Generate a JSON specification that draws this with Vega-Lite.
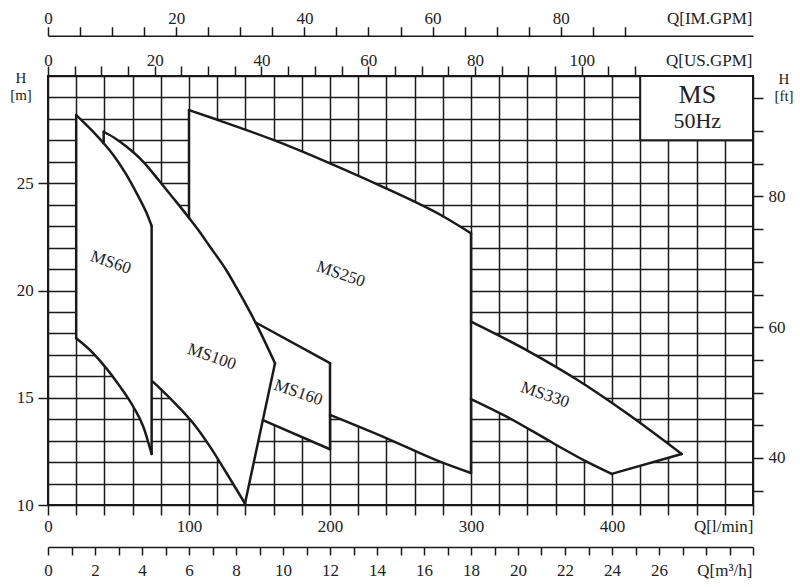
{
  "$schema": "https://vega.github.io/schema/vega-lite/v6.json",
  "width": 705,
  "height": 429,
  "autosize": {"type": "none"},
  "padding": {"left": 48, "top": 76, "right": 47, "bottom": 82},
  "background": "white",
  "config": {
    "view": {"stroke": "#1a1a1a", "strokeWidth": 2},
    "axis": {
      "labelFont": "Liberation Serif", "labelFontSize": 17, "labelColor": "#222",
      "titleFont": "Liberation Serif", "titleFontSize": 17, "titleColor": "#222", "titleFontWeight": "normal",
      "tickColor": "#1a1a1a", "tickWidth": 1.5,
      "domainColor": "#1a1a1a", "domainWidth": 1.5,
      "gridColor": "#1a1a1a", "gridWidth": 1.5, "gridOpacity": 1,
      "labelFlush": false, "labelOverlap": false, "labelBound": false,
      "titleAngle": 0
    }
  },
  "datasets": {
    "ms60": [
      {"Q": 20, "H": 28.18, "o": 1}, {"Q": 32.1, "H": 27.4, "o": 2}, {"Q": 39.2, "H": 26.89, "o": 3},
      {"Q": 46.3, "H": 26.32, "o": 4}, {"Q": 55.8, "H": 25.38, "o": 5}, {"Q": 62.9, "H": 24.53, "o": 6},
      {"Q": 70, "H": 23.6, "o": 7}, {"Q": 73.5, "H": 23.01, "o": 8}, {"Q": 73.5, "H": 12.38, "o": 9},
      {"Q": 67.6, "H": 13.65, "o": 10}, {"Q": 60.5, "H": 14.58, "o": 11}, {"Q": 51.1, "H": 15.52, "o": 12},
      {"Q": 40.4, "H": 16.45, "o": 13}, {"Q": 32.1, "H": 17.07, "o": 14}, {"Q": 20, "H": 17.77, "o": 15},
      {"Q": 20, "H": 28.18, "o": 16}
    ],
    "ms100": [
      {"Q": 39.5, "H": 27.4, "o": 1}, {"Q": 47.5, "H": 27.1, "o": 2}, {"Q": 55.8, "H": 26.7, "o": 3},
      {"Q": 67.6, "H": 26.0, "o": 4}, {"Q": 79.4, "H": 25.07, "o": 5}, {"Q": 88.9, "H": 24.3, "o": 6},
      {"Q": 98.4, "H": 23.52, "o": 7}, {"Q": 106.6, "H": 22.82, "o": 8}, {"Q": 114.9, "H": 22.04, "o": 9},
      {"Q": 126.7, "H": 20.92, "o": 10}, {"Q": 133.8, "H": 20.12, "o": 11}, {"Q": 148, "H": 18.4, "o": 12},
      {"Q": 161, "H": 16.61, "o": 13}, {"Q": 139.7, "H": 10.07, "o": 14}, {"Q": 126.7, "H": 11.48, "o": 15},
      {"Q": 114.9, "H": 12.72, "o": 16}, {"Q": 103, "H": 13.81, "o": 17}, {"Q": 91.3, "H": 14.66, "o": 18},
      {"Q": 79.4, "H": 15.44, "o": 19}, {"Q": 74.3, "H": 15.75, "o": 20}, {"Q": 60, "H": 16.6, "o": 21},
      {"Q": 39.5, "H": 17.8, "o": 22}, {"Q": 39.5, "H": 27.4, "o": 23}
    ],
    "ms160": [
      {"Q": 147, "H": 18.52, "o": 1}, {"Q": 200, "H": 16.61, "o": 2}, {"Q": 200, "H": 12.6, "o": 3},
      {"Q": 152.4, "H": 13.96, "o": 4}, {"Q": 150, "H": 16.5, "o": 5}, {"Q": 147, "H": 18.52, "o": 6}
    ],
    "ms250": [
      {"Q": 100, "H": 28.41, "o": 1}, {"Q": 119.6, "H": 27.97, "o": 2}, {"Q": 159.8, "H": 27.02, "o": 3},
      {"Q": 200, "H": 25.93, "o": 4}, {"Q": 237.8, "H": 24.82, "o": 5}, {"Q": 280.4, "H": 23.45, "o": 6},
      {"Q": 300, "H": 22.67, "o": 7}, {"Q": 300, "H": 11.49, "o": 8}, {"Q": 278, "H": 12.02, "o": 9},
      {"Q": 240.2, "H": 13.11, "o": 10}, {"Q": 200, "H": 14.2, "o": 11}, {"Q": 170, "H": 15.0, "o": 12},
      {"Q": 120, "H": 17.5, "o": 13}, {"Q": 100, "H": 20, "o": 14}, {"Q": 100, "H": 28.41, "o": 15}
    ],
    "ms330": [
      {"Q": 300, "H": 18.55, "o": 1}, {"Q": 340, "H": 17.2, "o": 2}, {"Q": 375, "H": 15.85, "o": 3},
      {"Q": 410, "H": 14.3, "o": 4}, {"Q": 449.4, "H": 12.38, "o": 5}, {"Q": 399.8, "H": 11.45, "o": 6},
      {"Q": 382, "H": 12.02, "o": 7}, {"Q": 358.4, "H": 12.88, "o": 8}, {"Q": 325.3, "H": 14.12, "o": 9},
      {"Q": 300, "H": 14.94, "o": 10}, {"Q": 300, "H": 18.55, "o": 11}
    ],
    "curves": [
      {"seg": "ms60 top", "Q": 20, "H": 28.18}, {"seg": "ms60 top", "Q": 32.1, "H": 27.4}, {"seg": "ms60 top", "Q": 39.2, "H": 26.89},
      {"seg": "ms60 top", "Q": 46.3, "H": 26.32}, {"seg": "ms60 top", "Q": 55.8, "H": 25.38}, {"seg": "ms60 top", "Q": 62.9, "H": 24.53},
      {"seg": "ms60 top", "Q": 70, "H": 23.6}, {"seg": "ms60 top", "Q": 73.5, "H": 23.01},
      {"seg": "ms60 bottom", "Q": 20, "H": 17.77}, {"seg": "ms60 bottom", "Q": 32.1, "H": 17.07}, {"seg": "ms60 bottom", "Q": 40.4, "H": 16.45},
      {"seg": "ms60 bottom", "Q": 51.1, "H": 15.52}, {"seg": "ms60 bottom", "Q": 60.5, "H": 14.58}, {"seg": "ms60 bottom", "Q": 67.6, "H": 13.65},
      {"seg": "ms60 bottom", "Q": 73.5, "H": 12.38},
      {"seg": "ms100 top", "Q": 39.5, "H": 27.4}, {"seg": "ms100 top", "Q": 47.5, "H": 27.1}, {"seg": "ms100 top", "Q": 55.8, "H": 26.7},
      {"seg": "ms100 top", "Q": 67.6, "H": 26.0}, {"seg": "ms100 top", "Q": 79.4, "H": 25.07}, {"seg": "ms100 top", "Q": 88.9, "H": 24.3},
      {"seg": "ms100 top", "Q": 98.4, "H": 23.52}, {"seg": "ms100 top", "Q": 106.6, "H": 22.82}, {"seg": "ms100 top", "Q": 114.9, "H": 22.04},
      {"seg": "ms100 top", "Q": 126.7, "H": 20.92}, {"seg": "ms100 top", "Q": 133.8, "H": 20.12}, {"seg": "ms100 top", "Q": 148, "H": 18.4},
      {"seg": "ms100 top", "Q": 161, "H": 16.61},
      {"seg": "ms100 bottom", "Q": 74.3, "H": 15.75}, {"seg": "ms100 bottom", "Q": 79.4, "H": 15.44}, {"seg": "ms100 bottom", "Q": 91.3, "H": 14.66},
      {"seg": "ms100 bottom", "Q": 103, "H": 13.81}, {"seg": "ms100 bottom", "Q": 114.9, "H": 12.72}, {"seg": "ms100 bottom", "Q": 126.7, "H": 11.48},
      {"seg": "ms100 bottom", "Q": 139.7, "H": 10.07},
      {"seg": "ms100 end", "Q": 139.7, "H": 10.07}, {"seg": "ms100 end", "Q": 161, "H": 16.61},
      {"seg": "ms160 top", "Q": 147, "H": 18.52}, {"seg": "ms160 top", "Q": 200, "H": 16.61},
      {"seg": "ms160 bottom", "Q": 152.4, "H": 13.96}, {"seg": "ms160 bottom", "Q": 200, "H": 12.6},
      {"seg": "ms250 top", "Q": 100, "H": 28.41}, {"seg": "ms250 top", "Q": 119.6, "H": 27.97}, {"seg": "ms250 top", "Q": 159.8, "H": 27.02},
      {"seg": "ms250 top", "Q": 200, "H": 25.93}, {"seg": "ms250 top", "Q": 237.8, "H": 24.82}, {"seg": "ms250 top", "Q": 280.4, "H": 23.45},
      {"seg": "ms250 top", "Q": 300, "H": 22.67},
      {"seg": "ms250 bottom", "Q": 200, "H": 14.2}, {"seg": "ms250 bottom", "Q": 240.2, "H": 13.11}, {"seg": "ms250 bottom", "Q": 278, "H": 12.02},
      {"seg": "ms250 bottom", "Q": 300, "H": 11.49},
      {"seg": "ms330 top", "Q": 300, "H": 18.55}, {"seg": "ms330 top", "Q": 340, "H": 17.2}, {"seg": "ms330 top", "Q": 375, "H": 15.85},
      {"seg": "ms330 top", "Q": 410, "H": 14.3}, {"seg": "ms330 top", "Q": 449.4, "H": 12.38},
      {"seg": "ms330 bottom", "Q": 300, "H": 14.94}, {"seg": "ms330 bottom", "Q": 325.3, "H": 14.12}, {"seg": "ms330 bottom", "Q": 358.4, "H": 12.88},
      {"seg": "ms330 bottom", "Q": 382, "H": 12.02}, {"seg": "ms330 bottom", "Q": 399.8, "H": 11.45},
      {"seg": "ms330 end", "Q": 399.8, "H": 11.45}, {"seg": "ms330 end", "Q": 449.4, "H": 12.38}
    ],
    "edges": [
      {"seg": "ms60 left", "Q": 20, "H": 17.77}, {"seg": "ms60 left", "Q": 20, "H": 28.18},
      {"seg": "ms60 right", "Q": 73.5, "H": 12.38}, {"seg": "ms60 right", "Q": 73.5, "H": 23.01},
      {"seg": "ms100 left", "Q": 39.5, "H": 26.87}, {"seg": "ms100 left", "Q": 39.5, "H": 27.4},
      {"seg": "ms250 left", "Q": 100, "H": 23.38}, {"seg": "ms250 left", "Q": 100, "H": 28.41},
      {"seg": "ms250 right", "Q": 300, "H": 11.49}, {"seg": "ms250 right", "Q": 300, "H": 22.67},
      {"seg": "ms160 right", "Q": 200, "H": 12.6}, {"seg": "ms160 right", "Q": 200, "H": 16.61}
    ],
    "labels": [
      {"Q": 44.5, "H": 21.3, "t": "MS60"},
      {"Q": 116.1, "H": 16.91, "t": "MS100"},
      {"Q": 177.5, "H": 15.24, "t": "MS160"},
      {"Q": 207.6, "H": 20.76, "t": "MS250"},
      {"Q": 352.5, "H": 15.13, "t": "MS330"}
    ]
  },
  "layer": [
    {
      "resolve": {"axis": {"x": "independent", "y": "independent"}},
      "layer": [
        {
          "data": {"name": "ms330"},
          "mark": {"type": "line", "fill": "white", "stroke": "transparent", "strokeWidth": 0},
          "encoding": {
            "x": {"field": "Q", "type": "quantitative", "scale": {"domain": [0, 500], "nice": false, "zero": false},
              "axis": {"orient": "bottom", "values": [0,20,40,60,80,100,120,140,160,180,200,220,240,260,280,300,320,340,360,380,400,420,440,460,480,500],
                "grid": true, "domain": false, "tickSize": 10, "labelBaseline": "alphabetic", "labelPadding": 16.7,
                "labelExpr": "datum.value % 100 === 0 && datum.value < 500 ? datum.label : ''",
                "title": "Q[l/min]", "titleX": 705, "titleY": 26.7, "titleAlign": "right", "titleAnchor": "end", "titleBaseline": "alphabetic"}},
            "y": {"field": "H", "type": "quantitative", "scale": {"domain": [10, 30], "nice": false, "zero": false},
              "axis": {"orient": "left", "values": [10, 15, 20, 25], "grid": false, "domain": false, "tickSize": 10, "labelPadding": 4.7,
                "title": ["H", "[m]"], "titleFontSize": 15, "titleX": -27.5, "titleY": 1, "titleAlign": "center", "titleBaseline": "middle", "titleLineHeight": 17}},
            "order": {"field": "o", "type": "quantitative"}
          }
        },
        {
          "data": {"name": "ms250"},
          "mark": {"type": "line", "fill": "white", "stroke": "transparent", "strokeWidth": 0},
          "encoding": {
            "x": {"field": "Q", "type": "quantitative", "scale": {"domain": [0, 500], "nice": false, "zero": false}, "axis": null},
            "y": {"field": "H", "type": "quantitative", "scale": {"domain": [10, 30], "nice": false, "zero": false},
              "axis": {"orient": "left", "values": [10,11,12,13,14,15,16,17,18,19,20,21,22,23,24,25,26,27,28,29,30], "grid": true, "domain": false, "ticks": false, "labels": false, "title": null}},
            "order": {"field": "o", "type": "quantitative"}
          }
        },
        {
          "data": {"name": "ms160"},
          "mark": {"type": "line", "fill": "white", "stroke": "transparent", "strokeWidth": 0},
          "encoding": {
            "x": {"field": "Q", "type": "quantitative", "scale": {"domain": [0, 500], "nice": false, "zero": false}, "axis": null},
            "y": {"field": "H", "type": "quantitative", "scale": {"domain": [10, 30], "nice": false, "zero": false}, "axis": null},
            "order": {"field": "o", "type": "quantitative"}
          }
        },
        {
          "data": {"name": "ms100"},
          "mark": {"type": "line", "fill": "white", "stroke": "transparent", "strokeWidth": 0},
          "encoding": {
            "x": {"field": "Q", "type": "quantitative", "scale": {"domain": [0, 500], "nice": false, "zero": false}, "axis": null},
            "y": {"field": "H", "type": "quantitative", "scale": {"domain": [10, 30], "nice": false, "zero": false}, "axis": null},
            "order": {"field": "o", "type": "quantitative"}
          }
        },
        {
          "data": {"name": "ms60"},
          "mark": {"type": "line", "fill": "white", "stroke": "transparent", "strokeWidth": 0},
          "encoding": {
            "x": {"field": "Q", "type": "quantitative", "scale": {"domain": [0, 500], "nice": false, "zero": false}, "axis": null},
            "y": {"field": "H", "type": "quantitative", "scale": {"domain": [10, 30], "nice": false, "zero": false}, "axis": null},
            "order": {"field": "o", "type": "quantitative"}
          }
        },
        {
          "data": {"name": "curves"},
          "mark": {"type": "line", "interpolate": "monotone", "stroke": "#1a1a1a", "strokeWidth": 2.5, "strokeCap": "round"},
          "encoding": {
            "x": {"field": "Q", "type": "quantitative", "scale": {"domain": [0, 500], "nice": false, "zero": false}, "axis": null},
            "y": {"field": "H", "type": "quantitative", "scale": {"domain": [10, 30], "nice": false, "zero": false}, "axis": null},
            "detail": {"field": "seg", "type": "nominal"}
          }
        },
        {
          "data": {"name": "edges"},
          "mark": {"type": "line", "stroke": "#1a1a1a", "strokeWidth": 2.5, "strokeCap": "round"},
          "encoding": {
            "x": {"field": "Q", "type": "quantitative", "scale": {"domain": [0, 500], "nice": false, "zero": false}, "axis": null},
            "y": {"field": "H", "type": "quantitative", "scale": {"domain": [10, 30], "nice": false, "zero": false}, "axis": null},
            "detail": {"field": "seg", "type": "nominal"}
          }
        },
        {
          "data": {"name": "labels"},
          "mark": {"type": "text", "font": "Liberation Serif", "fontSize": 17, "color": "#222", "angle": 19, "align": "center", "baseline": "middle"},
          "encoding": {
            "x": {"field": "Q", "type": "quantitative", "scale": {"domain": [0, 500], "nice": false, "zero": false}, "axis": null},
            "y": {"field": "H", "type": "quantitative", "scale": {"domain": [10, 30], "nice": false, "zero": false}, "axis": null},
            "text": {"field": "t"}
          }
        },
        {
          "data": {"values": [{"q1": 420, "q2": 500, "h1": 27, "h2": 30}]},
          "mark": {"type": "rect", "fill": "white", "stroke": "#1a1a1a", "strokeWidth": 2},
          "encoding": {
            "x": {"field": "q1", "type": "quantitative", "scale": {"domain": [0, 500], "nice": false, "zero": false}, "axis": null},
            "x2": {"field": "q2"},
            "y": {"field": "h1", "type": "quantitative", "scale": {"domain": [10, 30], "nice": false, "zero": false}, "axis": null},
            "y2": {"field": "h2"}
          }
        },
        {
          "data": {"values": [{"Q": 460.5, "H": 29.11, "t": "MS"}]},
          "mark": {"type": "text", "font": "Liberation Serif", "fontSize": 26, "color": "#222", "align": "center", "baseline": "middle"},
          "encoding": {
            "x": {"field": "Q", "type": "quantitative", "scale": {"domain": [0, 500], "nice": false, "zero": false}, "axis": null},
            "y": {"field": "H", "type": "quantitative", "scale": {"domain": [10, 30], "nice": false, "zero": false}, "axis": null},
            "text": {"field": "t"}
          }
        },
        {
          "data": {"values": [{"Q": 460.5, "H": 27.9, "t": "50Hz"}]},
          "mark": {"type": "text", "font": "Liberation Serif", "fontSize": 22, "color": "#222", "align": "center", "baseline": "middle"},
          "encoding": {
            "x": {"field": "Q", "type": "quantitative", "scale": {"domain": [0, 500], "nice": false, "zero": false}, "axis": null},
            "y": {"field": "H", "type": "quantitative", "scale": {"domain": [10, 30], "nice": false, "zero": false}, "axis": null},
            "text": {"field": "t"}
          }
        }
      ]
    },
    {
      "data": {"values": [{"v": 0}]},
      "mark": {"type": "rule", "strokeOpacity": 0},
      "encoding": {
        "x": {"field": "v", "type": "quantitative", "scale": {"domain": [0, 132.086], "nice": false, "zero": false},
          "axis": {"orient": "top", "values": [0,5,10,15,20,25,30,35,40,45,50,55,60,65,70,75,80,85,90,95,100,105,110],
            "domain": false, "grid": false, "tickSize": 10, "labelBaseline": "alphabetic", "labelPadding": 1,
            "labelExpr": "datum.value % 20 === 0 ? datum.label : ''",
            "title": "Q[US.GPM]", "titleX": 704, "titleY": -11, "titleAlign": "right", "titleAnchor": "end", "titleBaseline": "alphabetic"}}
      }
    },
    {
      "data": {"values": [{"v": 0}]},
      "mark": {"type": "rule", "strokeOpacity": 0},
      "encoding": {
        "x": {"field": "v", "type": "quantitative", "scale": {"domain": [0, 109.985], "nice": false, "zero": false},
          "axis": {"orient": "top", "offset": 40.3, "values": [0,5,10,15,20,25,30,35,40,45,50,55,60,65,70,75,80,85,90],
            "domain": true, "grid": false, "tickSize": 9, "labelBaseline": "alphabetic", "labelPadding": 3.4,
            "labelExpr": "datum.value % 20 === 0 ? datum.label : ''",
            "title": "Q[IM.GPM]", "titleX": 704, "titleY": -12.4, "titleAlign": "right", "titleAnchor": "end", "titleBaseline": "alphabetic"}}
      }
    },
    {
      "data": {"values": [{"v": 0}]},
      "mark": {"type": "rule", "strokeOpacity": 0},
      "encoding": {
        "x": {"field": "v", "type": "quantitative", "scale": {"domain": [0, 30], "nice": false, "zero": false},
          "axis": {"orient": "bottom", "offset": 42, "values": [0,1,2,3,4,5,6,7,8,9,10,11,12,13,14,15,16,17,18,19,20,21,22,23,24,25,26,27,28,29,30],
            "domain": true, "grid": false, "tickSize": 8, "labelBaseline": "alphabetic", "labelPadding": 20,
            "labelExpr": "datum.value % 2 === 0 && datum.value <= 26 ? datum.label : ''",
            "title": "Q[m³/h]", "titleX": 704, "titleY": 28, "titleAlign": "right", "titleAnchor": "end", "titleBaseline": "alphabetic"}}
      }
    },
    {
      "data": {"values": [{"v": 50}]},
      "mark": {"type": "rule", "strokeOpacity": 0},
      "encoding": {
        "y": {"field": "v", "type": "quantitative", "scale": {"domain": [32.8084, 98.4252], "nice": false, "zero": false},
          "axis": {"orient": "right", "values": [35,40,45,50,55,60,65,70,75,80,85,90,95],
            "domain": false, "grid": false, "tickSize": 10, "labelPadding": 5,
            "labelExpr": "datum.value % 20 === 0 ? datum.label : ''",
            "title": ["H", "[ft]"], "titleFontSize": 15, "titleX": 30.5, "titleY": 2, "titleAlign": "center", "titleBaseline": "middle", "titleLineHeight": 17}}
      }
    }
  ],
  "resolve": {"scale": {"x": "independent", "y": "independent"}, "axis": {"x": "independent", "y": "independent"}}
}
